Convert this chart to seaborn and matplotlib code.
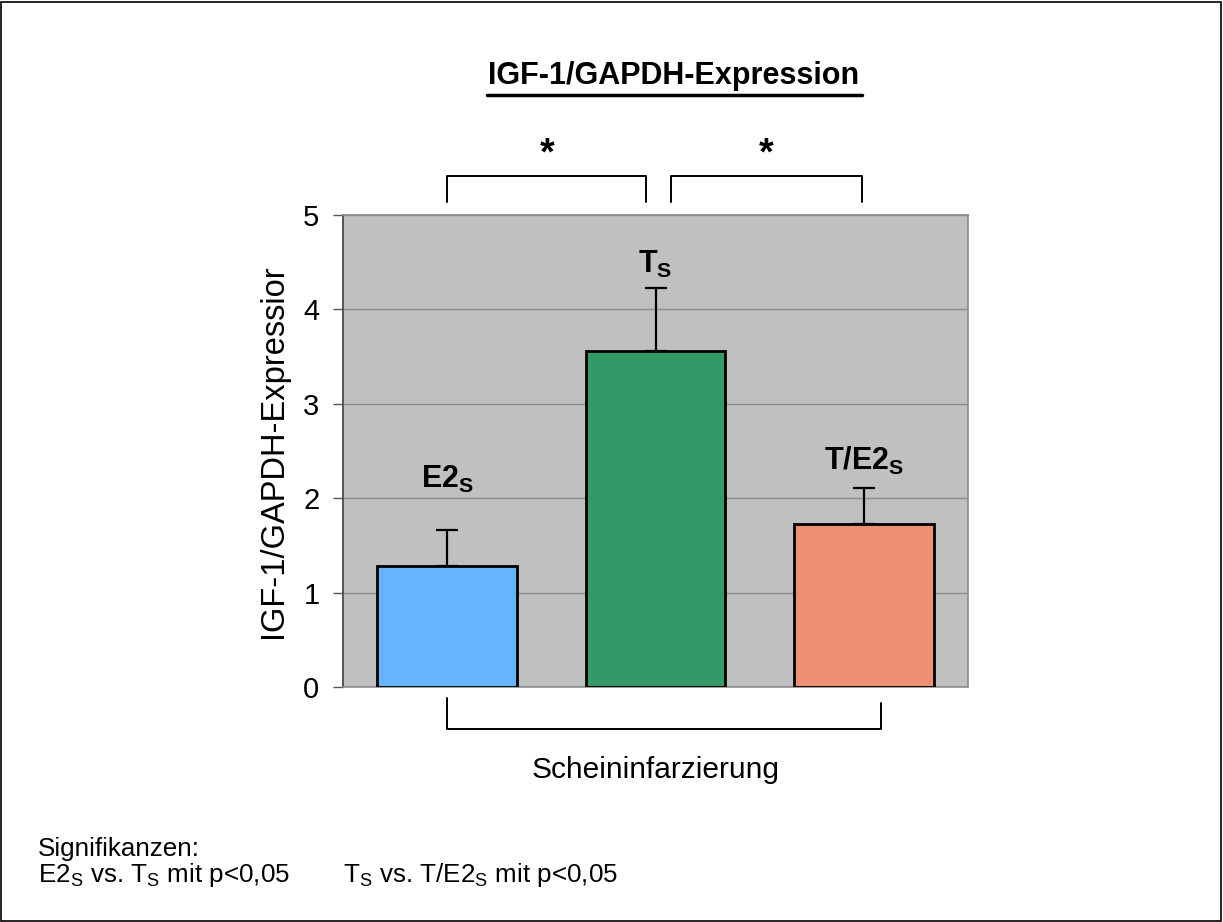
import matplotlib
matplotlib.use("Agg")
import matplotlib.pyplot as plt
import seaborn as sns
import pandas as pd
from matplotlib.patches import Rectangle

categories = ["E2s", "Ts", "T/E2s"]
bar_labels = [r"E2$_\mathregular{S}$", r"T$_\mathregular{S}$", r"T/E2$_\mathregular{S}$"]
values = [1.28, 3.56, 1.73]
err_top = [1.66, 4.23, 2.11]
colors = ["#66b3ff", "#339966", "#ee8e72"]
yticks = [0, 1, 2, 3, 4, 5]

sns.set_style("white")
plt.rcParams["font.family"] = ["Liberation Sans", "DejaVu Sans"]
plt.rcParams["mathtext.fontset"] = "custom"
plt.rcParams["mathtext.rm"] = "Liberation Sans"
plt.rcParams["mathtext.bf"] = "Liberation Sans:bold"
plt.rcParams["text.color"] = "black"
plt.rcParams["axes.labelcolor"] = "black"
plt.rcParams["ytick.color"] = "black"

fig = plt.figure(figsize=(12.23, 9.22), dpi=100)
ax = fig.add_axes([0.2805, 0.2549, 0.511, 0.5119])
ax.set_facecolor("#c0c0c0")

df = pd.DataFrame({"cat": categories, "val": values})
sns.barplot(data=df, x="cat", y="val", hue="cat", palette=colors, dodge=False,
            saturation=1, width=0.67, edgecolor="black", linewidth=2, legend=False,
            ax=ax, zorder=3)

errs = [t - v for t, v in zip(err_top, values)]
ax.errorbar(range(3), values, yerr=[[0, 0, 0], errs], fmt="none", ecolor="black",
            elinewidth=1.6, capsize=8, capthick=1.6, zorder=2)

ax.set_xlim(-0.5, 2.5)
ax.set_ylim(0, 5)
ax.set_yticks(yticks)
ax.set_yticklabels([str(t) for t in yticks], fontsize=21)
ax.set_xticks([])
ax.set_xlabel("")
ax.set_ylabel("IGF-1/GAPDH-Expressior", fontsize=23.5, labelpad=10)
ax.yaxis.grid(True, color="#8c8c8c", linewidth=1)
ax.set_axisbelow(True)
ax.tick_params(axis="y", direction="out", length=7, width=1, color="#555555", left=True, pad=10)
for s in ["top", "right", "bottom"]:
    ax.spines[s].set_color("#8c8c8c")
    ax.spines[s].set_linewidth(1.2)
ax.spines["left"].set_color("#555555")
ax.spines["left"].set_linewidth(1.4)

# bar labels
label_y = [2.03, 4.31, 2.22]
for i, (lab, ly) in enumerate(zip(bar_labels, label_y)):
    ax.text(i, ly, lab, ha="center", va="bottom", fontsize=22, fontweight="bold", zorder=5)

# significance brackets
def bracket(x0, x1, ylo, yhi):
    ax.plot([x0, x0, x1, x1], [ylo, yhi, yhi, ylo], color="black", lw=1.4, clip_on=False)

bracket(0.0, 0.953, 5.14, 5.41)
bracket(1.074, 1.99, 5.14, 5.41)
ax.text(0.48, 5.45, "*", ha="center", va="bottom", fontsize=27, fontweight="bold")
ax.text(1.53, 5.45, "*", ha="center", va="bottom", fontsize=27, fontweight="bold")

# group bracket
ax.plot([0.0, 0.0, 2.08, 2.08], [-0.117, -0.445, -0.445, -0.17], color="black", lw=1.4, clip_on=False)
ax.text(1.0, -0.88, "Scheininfarzierung", ha="center", va="center", fontsize=21.5)

# title
fig.text(674 / 1223, 1 - 76 / 922, "IGF-1/GAPDH-Expression", ha="center", va="center",
         fontsize=22, fontweight="bold")
fig.add_artist(plt.Line2D([487 / 1223, 862 / 1223], [1 - 95 / 922, 1 - 95 / 922],
                          color="black", lw=2.5))

# footnote
fig.text(38 / 1223, 1 - 849 / 922, "Signifikanzen:", ha="left", va="center", fontsize=18.7)
fig.text(38 / 1223, 1 - 875 / 922, r"E2$_\mathregular{S}$ vs. T$_\mathregular{S}$ mit p<0,05",
         ha="left", va="center", fontsize=18.7)
fig.text(343 / 1223, 1 - 875 / 922, r"T$_\mathregular{S}$ vs. T/E2$_\mathregular{S}$ mit p<0,05",
         ha="left", va="center", fontsize=18.7)

# outer frame
fig.add_artist(Rectangle((0.001, 0.001), 0.997, 0.997, transform=fig.transFigure,
                         fill=False, edgecolor="black", lw=1.2))

fig.savefig("out.png", dpi=100)
